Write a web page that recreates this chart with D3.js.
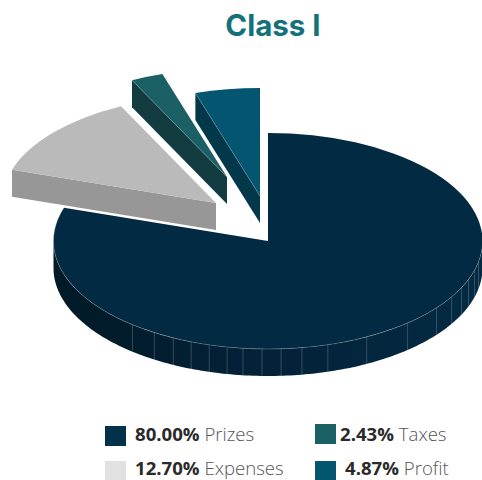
<!DOCTYPE html>
<html>
<head>
<meta charset="utf-8">
<script src="https://cdn.jsdelivr.net/npm/d3@7"></script>
<style>
  html, body { margin: 0; padding: 0; background: #fff; overflow: hidden; }
  svg { display: block; }
  text { font-family: "Open Sans", sans-serif; }
</style>
</head>
<body>
<div id="main"></div>
<script>
var labels = ["Prizes", "Expenses", "Taxes", "Profit"];
var shares = [80.00, 12.70, 2.43, 4.87];
var shareLabels = ["80.00%", "12.70%", "2.43%", "4.87%"];
var seamDegrees = [101.1, 105.6, 110.8, 115.5, 121.1, 128.2, 139.4, 152.6, 163.8, 170.9,
    176.5, 181.6, 186.7, 191, 195.9, 201, 206.2, 212, 219.2];

var ctx = {
    w: 482,
    h: 480,
    cx: 268,
    cy: 241,
    rx: 214.5,
    ry: 108,
    depth: 27,
    // how far each slice is pulled out of the pie
    offsets: [[0, 0], [-52, -38], [-41, -64], [-8, -45]],
    top: ["#032a43", "#bababa", "#1a6064", "#04556f"],
    wall: ["#032033", "#979797", "#123c40", "#03384a"],
    swatch: ["#03304b", "#e1e1e1", "#1a6064", "#04556f"],
    // swatch box and text start of every legend row
    legend: [
        {x: 105, y: 426, h: 20, tx: 135, ty: 441},
        {x: 105, y: 461, h: 19, tx: 135, ty: 474.5},
        {x: 315, y: 424, h: 20, tx: 340, ty: 441},
        {x: 315, y: 461, h: 19, tx: 345, ty: 474.5}
    ]
};

var svg = d3.select("#main").append("svg")
    .attr("width", ctx.w)
    .attr("height", ctx.h);

var defs = svg.append("defs");
var grad = defs.append("linearGradient").attr("id", "wallGrad");
grad.append("stop").attr("offset", "0%").attr("stop-color", "#021a27");
grad.append("stop").attr("offset", "55%").attr("stop-color", "#03223a");
grad.append("stop").attr("offset", "100%").attr("stop-color", "#042b42");

svg.append("text")
    .attr("x", 273)
    .attr("y", 36)
    .attr("text-anchor", "middle")
    .style("font-family", "Inter, sans-serif")
    .style("font-size", "29.5px")
    .style("font-weight", 700)
    .style("fill", "#13717a")
    .text("Class I");

// angles start at 12 o'clock, going clockwise
var pie = d3.pie().sort(null);
var slices = pie(shares);

var arc = d3.arc().innerRadius(0).outerRadius(ctx.rx);
var line = d3.line();

var px = function(a) { return ctx.rx * Math.sin(a); };
var py = function(a) { return -ctx.ry * Math.cos(a); };
var rad = function(deg) { return deg * Math.PI / 180; };

// outer wall of the big slice
var wallPoints = [];
d3.range(90, 270.5, 1).forEach(function(deg) {
    wallPoints.push([px(rad(deg)), py(rad(deg))]);
});
d3.range(270, 89.5, -1).forEach(function(deg) {
    wallPoints.push([px(rad(deg)), py(rad(deg)) + ctx.depth]);
});

var groups = svg.selectAll("g.slice")
    .data(slices)
    .enter()
    .append("g")
    .attr("class", "slice")
    .attr("transform", function(d, i) {
        return "translate(" + (ctx.cx + ctx.offsets[i][0]) + "," + (ctx.cy + ctx.offsets[i][1]) + ")";
    });

// the big slice goes first so the pulled out ones sit on top
groups.each(function(d, i) {
    var g = d3.select(this);
    if (i == 0) {
        g.append("path")
            .attr("d", line(wallPoints) + "Z")
            .attr("fill", "url(#wallGrad)");
        g.selectAll("line.seam")
            .data(seamDegrees)
            .enter()
            .append("line")
            .attr("class", "seam")
            .attr("x1", function(s) { return px(rad(s)); })
            .attr("x2", function(s) { return px(rad(s)); })
            .attr("y1", function(s) { return py(rad(s)); })
            .attr("y2", function(s) { return py(rad(s)) + ctx.depth; })
            .attr("stroke", "#9aabb5")
            .attr("stroke-opacity", 0.55)
            .attr("stroke-width", 0.6);
    } else {
        // cut face along the first edge of the slice
        var a = d.startAngle;
        g.append("path")
            .attr("d", line([[0, 0], [px(a), py(a)], [px(a), py(a) + ctx.depth], [0, ctx.depth]]) + "Z")
            .attr("fill", ctx.wall[i]);
    }
    g.append("path")
        .attr("d", arc(d))
        .attr("transform", "scale(1," + (ctx.ry / ctx.rx) + ")")
        .attr("fill", ctx.top[i]);
    if (i == 0) {
        // thin light rim where the top meets the wall
        var rim = d3.range(90, 288.5, 1).map(function(deg) { return [px(rad(deg)), py(rad(deg))]; });
        g.append("path")
            .attr("d", line(rim))
            .attr("fill", "none")
            .attr("stroke", "#9aabb5")
            .attr("stroke-opacity", 0.55)
            .attr("stroke-width", 0.6);
    } else if (i > 1) {
        var b = d.startAngle;
        g.append("path")
            .attr("d", line([[0, 0], [px(b), py(b)]]))
            .attr("stroke", "#9fc0c8")
            .attr("stroke-opacity", 0.5)
            .attr("stroke-width", 0.6);
    }
});

// legend
var rows = svg.selectAll("g.legend")
    .data(labels)
    .enter()
    .append("g")
    .attr("class", "legend");

rows.append("rect")
    .attr("x", function(d, i) { return ctx.legend[i].x; })
    .attr("y", function(d, i) { return ctx.legend[i].y; })
    .attr("width", 21)
    .attr("height", function(d, i) { return ctx.legend[i].h; })
    .attr("fill", function(d, i) { return ctx.swatch[i]; });

var txt = rows.append("text")
    .attr("x", function(d, i) { return ctx.legend[i].tx; })
    .attr("y", function(d, i) { return ctx.legend[i].ty; })
    .style("font-size", "18.6px");

txt.append("tspan")
    .style("font-weight", 700)
    .style("fill", "#2a2a2a")
    .text(function(d, i) { return shareLabels[i]; });

txt.append("tspan")
    .style("font-weight", 300)
    .style("fill", "#555")
    .text(function(d) { return " " + d; });
</script>
</body>
</html>
